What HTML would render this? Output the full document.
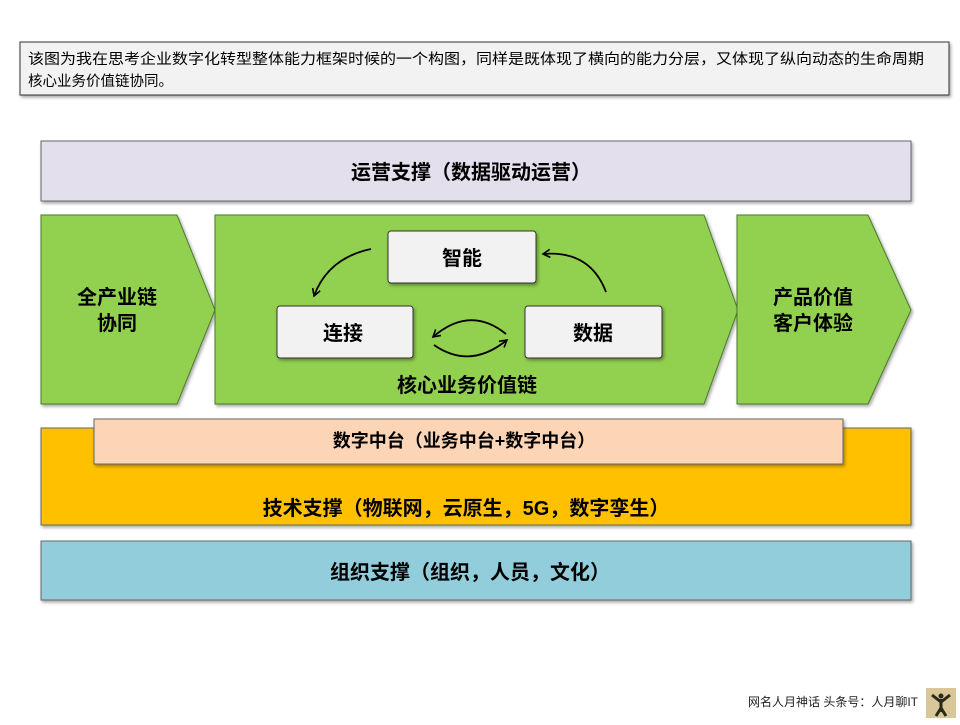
<!DOCTYPE html>
<html><head><meta charset="utf-8"><style>
body{margin:0;background:#fff;}
svg text{font-family:"Liberation Sans","Noto Sans CJK SC",sans-serif;}
</style></head><body>
<svg width="960" height="720" viewBox="0 0 960 720" xmlns="http://www.w3.org/2000/svg">
<defs>
<filter id="sh" x="-5%" y="-5%" width="110%" height="120%"><feDropShadow dx="1.5" dy="2" stdDeviation="1.5" flood-color="#000" flood-opacity="0.35"/></filter>
<marker id="ah" markerWidth="10" markerHeight="10" refX="8" refY="5" orient="auto" markerUnits="userSpaceOnUse"><path d="M1,1 L8,5 L1,9" fill="none" stroke="#000" stroke-width="1.6"/></marker>
</defs>
<rect x="20" y="42" width="929" height="53" fill="#f2f2f2" stroke="#333" stroke-width="1" filter="url(#sh)"/>
<text x="28" y="64" font-size="14.5" fill="#000" textLength="896" lengthAdjust="spacingAndGlyphs">该图为我在思考企业数字化转型整体能力框架时候的一个构图，同样是既体现了横向的能力分层，又体现了纵向动态的生命周期</text>
<text x="28" y="86" font-size="14.5" fill="#000">核心业务价值链协同。</text>

<rect x="41" y="141" width="870" height="60" fill="#e4dfec" stroke="#666" filter="url(#sh)"/>
<text x="471" y="179" font-size="20" font-weight="bold" text-anchor="middle">运营支撑（数据驱动运营）</text>

<polygon points="41,215 177,215 215,310 177,404 41,404" fill="#92d050" stroke="#4a7a2a" filter="url(#sh)"/>
<text x="117" y="304" font-size="20" font-weight="bold" text-anchor="middle">全产业链</text>
<text x="117" y="330" font-size="20" font-weight="bold" text-anchor="middle">协同</text>

<polygon points="215,215 704,215 738,310 704,404 215,404" fill="#92d050" stroke="#4a7a2a" filter="url(#sh)"/>
<polygon points="737,215 868,215 911,310 868,404 737,404" fill="#92d050" stroke="#4a7a2a" filter="url(#sh)"/>
<text x="813" y="304" font-size="20" font-weight="bold" text-anchor="middle">产品价值</text>
<text x="813" y="330" font-size="20" font-weight="bold" text-anchor="middle">客户体验</text>

<rect x="388" y="231" width="148" height="52" rx="3" fill="#f2f2f2" stroke="#333" filter="url(#sh)"/>
<text x="462" y="265" font-size="20" font-weight="bold" text-anchor="middle">智能</text>
<rect x="277" y="306" width="136" height="52" rx="3" fill="#f2f2f2" stroke="#333" filter="url(#sh)"/>
<text x="343" y="340" font-size="20" font-weight="bold" text-anchor="middle">连接</text>
<rect x="525" y="306" width="137" height="52" rx="3" fill="#f2f2f2" stroke="#333" filter="url(#sh)"/>
<text x="593" y="340" font-size="20" font-weight="bold" text-anchor="middle">数据</text>
<text x="467" y="392" font-size="20" font-weight="bold" text-anchor="middle">核心业务价值链</text>

<path d="M371,249 Q328,258 314,296" fill="none" stroke="#000" stroke-width="1.8" marker-end="url(#ah)"/>
<path d="M606,292 Q590,250 543,254" fill="none" stroke="#000" stroke-width="1.8" marker-end="url(#ah)"/>
<path d="M506,334 Q470,305 433,337" fill="none" stroke="#000" stroke-width="1.8" marker-end="url(#ah)"/>
<path d="M434,345 Q470,370 507,340" fill="none" stroke="#000" stroke-width="1.8" marker-end="url(#ah)"/>

<rect x="41" y="428" width="870" height="97" fill="#ffc000" stroke="#666" filter="url(#sh)"/>
<rect x="94" y="419" width="749" height="45" fill="#fbd5b5" stroke="#666" filter="url(#sh)"/>
<text x="464" y="447" font-size="18" font-weight="bold" text-anchor="middle">数字中台（业务中台+数字中台）</text>
<text x="466" y="515" font-size="20" font-weight="bold" text-anchor="middle">技术支撑（物联网，云原生，5G，数字孪生）</text>

<rect x="41" y="541" width="870" height="59" fill="#92cddc" stroke="#666" filter="url(#sh)"/>
<text x="470" y="579" font-size="20" font-weight="bold" text-anchor="middle">组织支撑（组织，人员，文化）</text>

<text x="748" y="706" font-size="12" fill="#222">网名人月神话 头条号：人月聊IT</text>
<rect x="926" y="688" width="30" height="30" fill="#d9c79a"/>
<path d="M932,695 L941,702 L950,695 M941,699 L941,712 M936,716 L941,708 L946,716" stroke="#2a2a1a" stroke-width="3" fill="none"/>
<circle cx="941" cy="696" r="2.5" fill="#2a2a1a"/>
</svg>
</body></html>
